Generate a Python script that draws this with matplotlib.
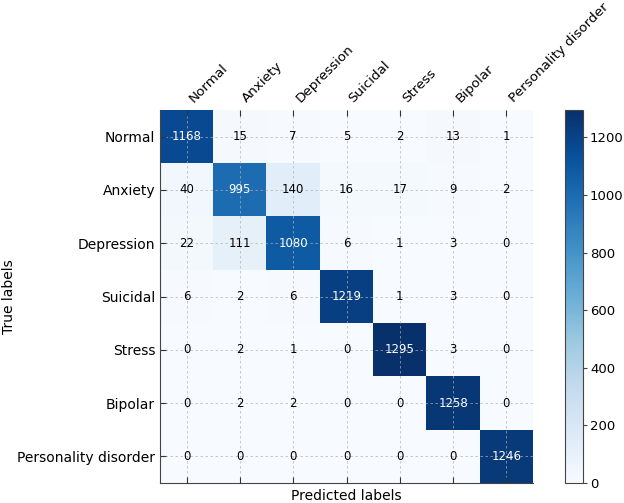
import numpy as np
import matplotlib
matplotlib.use("Agg")
import matplotlib.pyplot as plt

labels = ["Normal", "Anxiety", "Depression", "Suicidal", "Stress", "Bipolar", "Personality disorder"]

row_normal = [1168, 15, 7, 5, 2, 13, 1]
row_anxiety = [40, 995, 140, 16, 17, 9, 2]
row_depression = [22, 111, 1080, 6, 1, 3, 0]
row_suicidal = [6, 2, 6, 1219, 1, 3, 0]
row_stress = [0, 2, 1, 0, 1295, 3, 0]
row_bipolar = [0, 2, 2, 0, 0, 1258, 0]
row_personality = [0, 0, 0, 0, 0, 0, 1246]

cm = np.array([row_normal, row_anxiety, row_depression, row_suicidal,
               row_stress, row_bipolar, row_personality])

fig = plt.figure(figsize=(6.24, 5.03), dpi=100)
ax = fig.add_axes([160/624, 1 - 483/503, 373/624, 373/503])
cax = fig.add_axes([565/624, 1 - 483/503, 18/624, 373/503])

im = ax.imshow(cm, cmap="Blues", vmin=0, vmax=cm.max(), aspect="auto")
cb = fig.colorbar(im, cax=cax)
cb.outline.set_edgecolor("#444444")
cb.ax.tick_params(labelsize=9.5, length=3, pad=2, color="#444444")
cb.set_ticks([0, 200, 400, 600, 800, 1000, 1200])

thresh = cm.max() / 2
for i in range(cm.shape[0]):
    for j in range(cm.shape[1]):
        ax.text(j, i, str(cm[i, j]), ha="center", va="center", fontsize=8.5,
                color="white" if cm[i, j] > thresh else "black")

ax.set_xticks(range(len(labels)))
ax.set_yticks(range(len(labels)))
ax.xaxis.tick_top()
ax.set_xticklabels(labels, rotation=45, ha="left", fontsize=9.7)
ax.set_yticklabels(labels, fontsize=10)
ax.tick_params(axis="both", direction="in", length=4, color="#333333", top=True, bottom=True, left=True)
ax.set_xlabel("Predicted labels", fontsize=10)
ax.xaxis.set_label_position("bottom")
ax.set_ylabel("True labels", fontsize=10)
ax.yaxis.set_label_coords(-0.385, 0.5)

for s in ["top", "right"]:
    ax.spines[s].set_visible(False)
for s in ["left", "bottom"]:
    ax.spines[s].set_color("#444444")

ax.grid(True, linestyle=(0, (3, 3)), color="#b0b0b0", linewidth=0.6, alpha=0.8)
ax.set_axisbelow(False)

fig.savefig("out.png", dpi=100)
